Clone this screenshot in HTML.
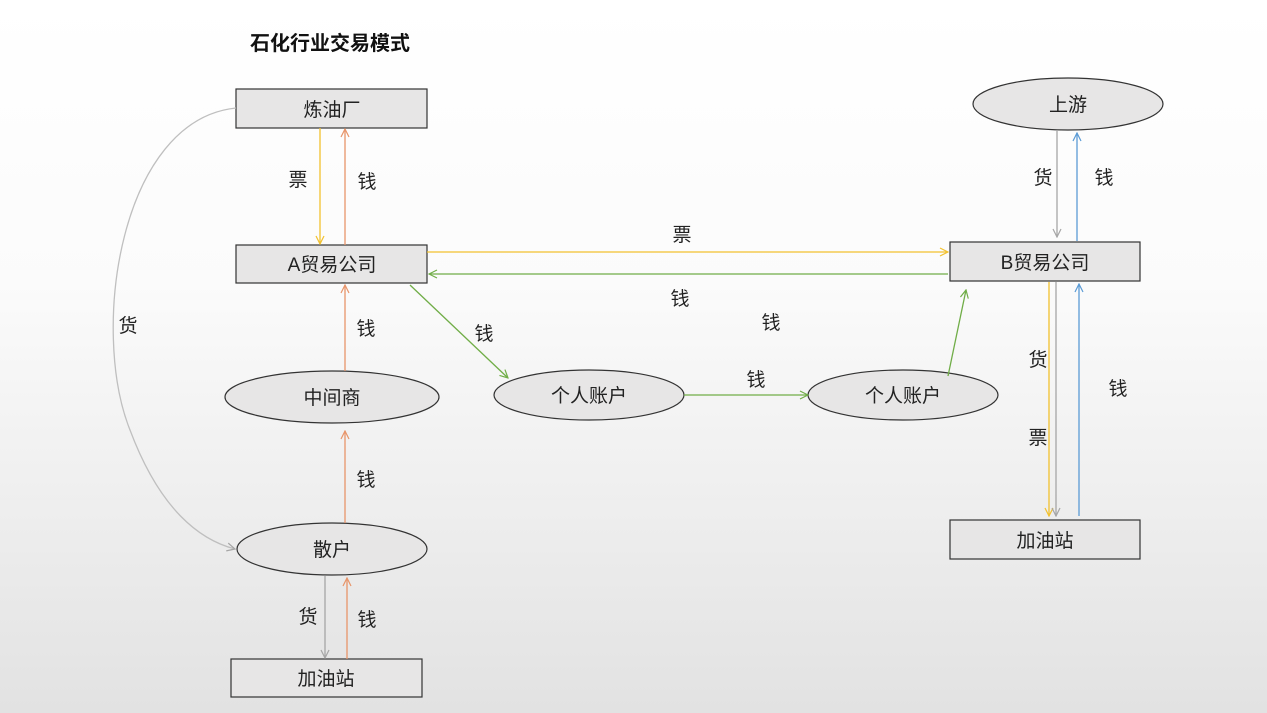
<!DOCTYPE html>
<html><head><meta charset="utf-8"><style>
html,body{margin:0;padding:0;width:1267px;height:713px;overflow:hidden;background:linear-gradient(#fff 0%,#fbfbfb 40%,#e2e2e2 100%);}
svg{display:block;font-family:"Liberation Sans","Noto Sans CJK SC",sans-serif;}
</style></head><body>
<svg width="1267" height="713" viewBox="0 0 1267 713">
<defs>
<marker id="ay" markerWidth="10" markerHeight="10" refX="9" refY="5" orient="auto" markerUnits="userSpaceOnUse"><path d="M1,1 L9,5 L1,9" fill="none" stroke="#f2c12e" stroke-width="1.2"/></marker>
<marker id="ao" markerWidth="10" markerHeight="10" refX="9" refY="5" orient="auto" markerUnits="userSpaceOnUse"><path d="M1,1 L9,5 L1,9" fill="none" stroke="#e8956a" stroke-width="1.2"/></marker>
<marker id="ag" markerWidth="10" markerHeight="10" refX="9" refY="5" orient="auto" markerUnits="userSpaceOnUse"><path d="M1,1 L9,5 L1,9" fill="none" stroke="#70ad47" stroke-width="1.2"/></marker>
<marker id="agr" markerWidth="10" markerHeight="10" refX="9" refY="5" orient="auto" markerUnits="userSpaceOnUse"><path d="M1,1 L9,5 L1,9" fill="none" stroke="#a6a6a6" stroke-width="1.2"/></marker>
<marker id="ab" markerWidth="10" markerHeight="10" refX="9" refY="5" orient="auto" markerUnits="userSpaceOnUse"><path d="M1,1 L9,5 L1,9" fill="none" stroke="#5b9bd5" stroke-width="1.2"/></marker>
</defs>
<text x="250" y="50" font-size="20" font-weight="bold" fill="#111">石化行业交易模式</text>
<g fill="#e7e6e6" stroke="#333" stroke-width="1.2">
<rect x="236" y="89" width="191" height="39"/>
<rect x="236" y="245" width="191" height="38"/>
<rect x="950" y="242" width="190" height="39"/>
<rect x="950" y="520" width="190" height="39"/>
<rect x="231" y="659" width="191" height="38"/>
<ellipse cx="1068" cy="104" rx="95" ry="26"/>
<ellipse cx="332" cy="397" rx="107" ry="26"/>
<ellipse cx="589" cy="395" rx="95" ry="25"/>
<ellipse cx="903" cy="395" rx="95" ry="25"/>
<ellipse cx="332" cy="549" rx="95" ry="26"/>
</g>
<g fill="none" stroke-width="1.3">
<line x1="320" y1="128" x2="320" y2="244" stroke="#f2c12e" marker-end="url(#ay)"/>
<line x1="345" y1="245" x2="345" y2="129" stroke="#e8956a" marker-end="url(#ao)"/>
<line x1="427" y1="252" x2="948" y2="252" stroke="#f2c12e" marker-end="url(#ay)"/>
<line x1="948" y1="274" x2="429" y2="274" stroke="#70ad47" marker-end="url(#ag)"/>
<line x1="410" y1="285" x2="508" y2="378" stroke="#70ad47" marker-end="url(#ag)"/>
<line x1="684" y1="395" x2="808" y2="395" stroke="#70ad47" marker-end="url(#ag)"/>
<line x1="948" y1="376" x2="966" y2="290" stroke="#70ad47" marker-end="url(#ag)"/>
<line x1="345" y1="371" x2="345" y2="285" stroke="#e8956a" marker-end="url(#ao)"/>
<line x1="345" y1="523" x2="345" y2="431" stroke="#e8956a" marker-end="url(#ao)"/>
<path d="M236,108 C120,120 90,330 130,430 C160,510 200,540 235,549" stroke="#bfbfbf" marker-end="url(#agr)"/>
<line x1="325" y1="576" x2="325" y2="658" stroke="#a6a6a6" marker-end="url(#agr)"/>
<line x1="347" y1="659" x2="347" y2="578" stroke="#e8956a" marker-end="url(#ao)"/>
<line x1="1057" y1="130" x2="1057" y2="237" stroke="#a6a6a6" marker-end="url(#agr)"/>
<line x1="1077" y1="241" x2="1077" y2="133" stroke="#5b9bd5" marker-end="url(#ab)"/>
<line x1="1049" y1="282" x2="1049" y2="516" stroke="#f2c12e" marker-end="url(#ay)"/>
<line x1="1056" y1="282" x2="1056" y2="516" stroke="#a6a6a6" marker-end="url(#agr)"/>
<line x1="1079" y1="516" x2="1079" y2="284" stroke="#5b9bd5" marker-end="url(#ab)"/>
</g>
<g font-size="19" fill="#222" text-anchor="middle">
<text x="332" y="116">炼油厂</text>
<text x="332" y="271">A贸易公司</text>
<text x="1045" y="269">B贸易公司</text>
<text x="1045" y="547">加油站</text>
<text x="326" y="685">加油站</text>
<text x="1068" y="111">上游</text>
<text x="332" y="404">中间商</text>
<text x="589" y="402">个人账户</text>
<text x="903" y="402">个人账户</text>
<text x="332" y="556">散户</text>
<text x="298" y="186">票</text>
<text x="367" y="188">钱</text>
<text x="682" y="241">票</text>
<text x="680" y="305">钱</text>
<text x="771" y="329">钱</text>
<text x="484" y="340">钱</text>
<text x="756" y="386">钱</text>
<text x="366" y="335">钱</text>
<text x="366" y="486">钱</text>
<text x="128" y="332">货</text>
<text x="308" y="623">货</text>
<text x="367" y="626">钱</text>
<text x="1043" y="184">货</text>
<text x="1104" y="184">钱</text>
<text x="1038" y="366">货</text>
<text x="1038" y="444">票</text>
<text x="1118" y="395">钱</text>
</g>
</svg>
</body></html>
